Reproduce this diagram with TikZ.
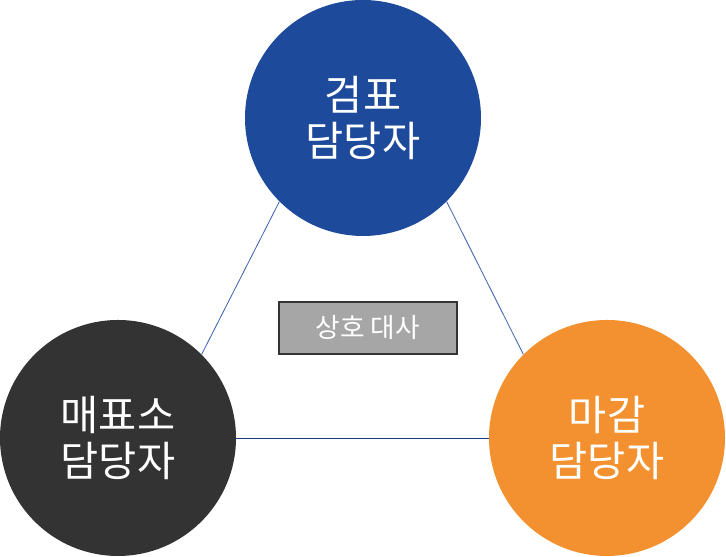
\documentclass[tikz,border=0pt]{standalone}
\usepackage{fontspec}
\newfontfamily\kr{Noto Sans CJK KR}
\definecolor{pblue}{HTML}{1E4A9C}
\definecolor{pdark}{HTML}{333333}
\definecolor{porange}{HTML}{F39130}
\definecolor{pgray}{HTML}{A6A6A6}
\definecolor{plink}{HTML}{3F64B0}
\begin{document}
\begin{tikzpicture}
	\tikzstyle{c} = [shape=circle, anchor=center, minimum size=5.9cm, inner sep=0pt, text=white, align=center, font=\kr\fontsize{29.5}{33}\selectfont]
	\tikzstyle{l} = [draw=plink, line width=0.6pt]
  \useasboundingbox (0,0) rectangle (18.15,13.925);
  % Kreise
  \node[c, fill=pblue] (gp) at (9.075,10.975) {검표\\담당자};
  \node[c, fill=pdark] (mp) at (2.95,2.975) {매표소\\담당자};
  \node[c, fill=porange] (mg) at (15.175,2.975) {마감\\담당자};

  % Kasten
  \node[draw=pdark, fill=pgray, line width=1.4pt, minimum width=4.45cm, minimum height=1.3cm, text=white, font=\kr\fontsize{19}{22}\selectfont] (sd) at (9.2,5.725) {상호 대사};

  % Verbindungen
  \draw[l] (gp.south west) -- (mp.north east);
  \draw[l] (gp.south east) -- (mg.north west);
  \draw[l, draw=pblue!80!black] (mp.east) -- (mg.west);
\end{tikzpicture}
\end{document}
